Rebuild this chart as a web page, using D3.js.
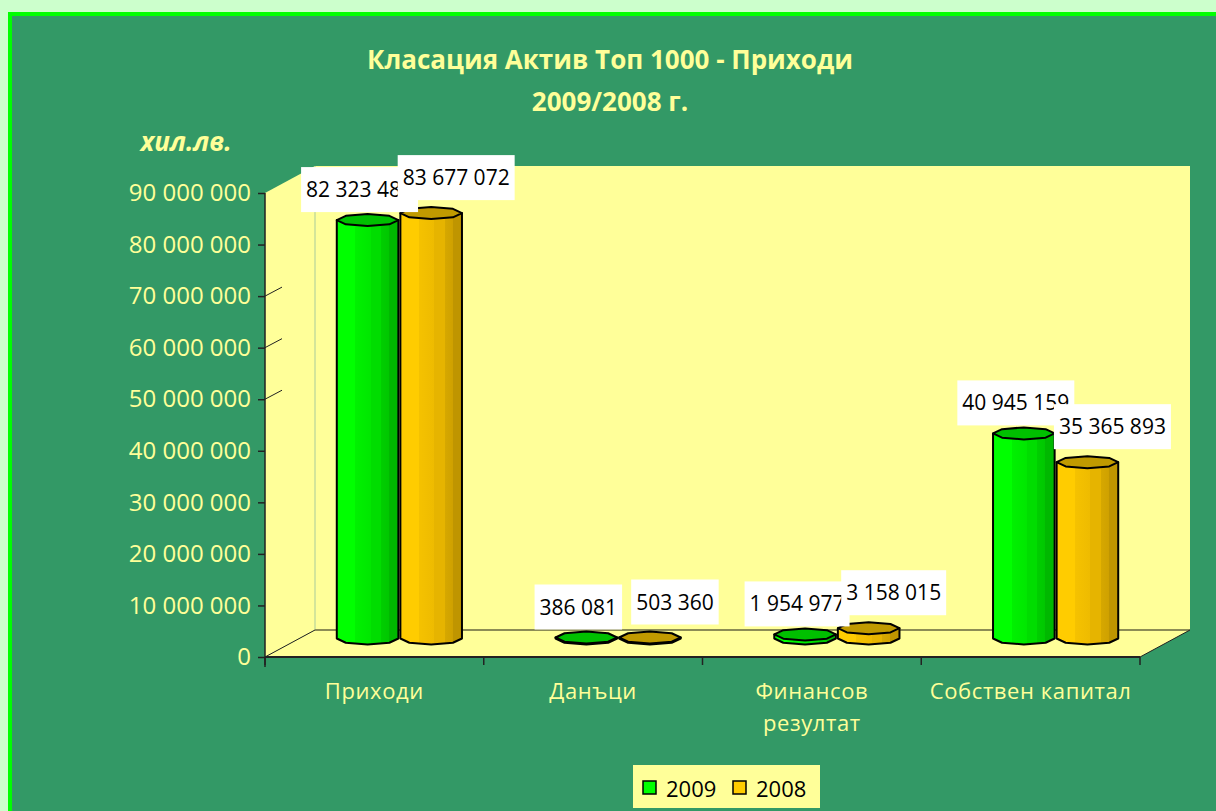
<!DOCTYPE html>
<html>
<head>
<meta charset="utf-8">
<script src="https://cdn.jsdelivr.net/npm/d3@7/dist/d3.min.js"></script>
<style>
  html, body { margin: 0; padding: 0; background: #ccffcc; }
  svg { display: block; }
  text { font-family: "Open Sans", "Noto Sans", sans-serif; }
</style>
</head>
<body>
<div id="chart"></div>
<script>
const categories = ["Приходи", "Данъци", "Финансов резултат", "Собствен капитал"];
const categoryLines = [["Приходи"], ["Данъци"], ["Финансов", "резултат"], ["Собствен капитал"]];
const seriesNames = ["2009", "2008"];
const values2009 = [82323481, 386081, 1954977, 40945159];
const values2008 = [83677072, 503360, 3158015, 35365893];
const yTickValues = [0, 10000000, 20000000, 30000000, 40000000, 50000000, 60000000, 70000000, 80000000, 90000000];
const wallStubTicks = [50000000, 60000000, 70000000];
const titleLines = ["Класация Актив Топ 1000 - Приходи", "2009/2008 г."];
const unitLabel = "хил.лв.";

const WIDTH = 1216;
const HEIGHT = 811;
const YELLOW = "#ffff99";
const PANEL = "#339966";

// front plane of the 3D plot and the depth offset of the back wall
const FRONT_LEFT = 265;
const FRONT_RIGHT = 1140;
const FRONT_BOTTOM = 657;
const FRONT_TOP = 193;
const DEPTH_X = 50;
const DEPTH_Y = -27;
const BAR_DEPTH = 0.5;
const CAP_H = 6;

const series = [
  { name: seriesNames[0], values: values2009, light: "#00ff00", mid: "#00dd00", dark: "#00b800", cap: "#00c000", labelDx: -8, labelDy: -31 },
  { name: seriesNames[1], values: values2008, light: "#ffcc00", mid: "#e6b400", dark: "#bf9500", cap: "#c09a00", labelDx: 25, labelDy: -36 }
];

const svg = d3.select("#chart").append("svg")
  .attr("width", WIDTH)
  .attr("height", HEIGHT);

// outer frame
svg.append("rect").attr("width", WIDTH).attr("height", HEIGHT).attr("fill", "#ccffcc");
svg.append("rect").attr("x", 8).attr("y", 12).attr("width", WIDTH).attr("height", HEIGHT).attr("fill", "#00ff00");
svg.append("rect").attr("x", 12).attr("y", 16).attr("width", WIDTH).attr("height", HEIGHT).attr("fill", PANEL);

const defs = svg.append("defs");
series.forEach((s, i) => {
  const grad = defs.append("linearGradient")
    .attr("id", `bar-grad-${i}`)
    .attr("x1", "0%").attr("x2", "100%").attr("y1", "0%").attr("y2", "0%");
  const stops = [
    [0, s.light], [0.3, s.light], [0.3, d3.interpolateRgb(s.light, s.mid)(0.4)],
    [0.55, d3.interpolateRgb(s.light, s.mid)(0.7)], [0.55, s.mid], [0.72, s.mid],
    [0.72, d3.interpolateRgb(s.mid, s.dark)(0.4)], [0.85, d3.interpolateRgb(s.mid, s.dark)(0.6)],
    [0.85, s.dark], [1, s.dark]
  ];
  stops.forEach(([o, c]) => grad.append("stop").attr("offset", o).attr("stop-color", c));
});

const x0 = d3.scaleBand().domain(categories).range([FRONT_LEFT, FRONT_RIGHT]);
const x1 = d3.scaleBand().domain(seriesNames).range([0, x0.bandwidth()]).paddingOuter(0.72);
const y = d3.scaleLinear().domain([0, 90000000]).range([FRONT_BOTTOM, FRONT_TOP]);
const fmt = (v) => d3.format(",")(v).replace(/,/g, " ");

const backTop = y(90000000) + DEPTH_Y;
const backBottom = FRONT_BOTTOM + DEPTH_Y;

// walls and floor
const walls = svg.append("g");
walls.append("polygon")
  .attr("points", [[FRONT_LEFT, y(90000000)], [FRONT_LEFT + DEPTH_X, backTop], [FRONT_LEFT + DEPTH_X, backBottom], [FRONT_LEFT, FRONT_BOTTOM]].join(" "))
  .attr("fill", YELLOW);
walls.append("rect")
  .attr("x", FRONT_LEFT + DEPTH_X).attr("y", backTop)
  .attr("width", FRONT_RIGHT - FRONT_LEFT).attr("height", backBottom - backTop)
  .attr("fill", YELLOW);
walls.append("polygon")
  .attr("points", [[FRONT_LEFT, FRONT_BOTTOM], [FRONT_RIGHT, FRONT_BOTTOM], [FRONT_RIGHT + DEPTH_X, backBottom], [FRONT_LEFT + DEPTH_X, backBottom]].join(" "))
  .attr("fill", YELLOW);
walls.append("line")
  .attr("x1", FRONT_LEFT + DEPTH_X).attr("x2", FRONT_LEFT + DEPTH_X)
  .attr("y1", backTop).attr("y2", backBottom)
  .attr("stroke", "#b8d49a").attr("stroke-width", 1.2);
walls.append("line")
  .attr("x1", FRONT_LEFT + DEPTH_X).attr("x2", FRONT_RIGHT + DEPTH_X)
  .attr("y1", backBottom).attr("y2", backBottom)
  .attr("stroke", "#8c8c55").attr("stroke-width", 2);
walls.append("line")
  .attr("x1", FRONT_LEFT).attr("y1", FRONT_BOTTOM)
  .attr("x2", FRONT_LEFT + DEPTH_X).attr("y2", backBottom)
  .attr("stroke", "#222").attr("stroke-width", 1);
walls.append("line")
  .attr("x1", FRONT_RIGHT).attr("y1", FRONT_BOTTOM)
  .attr("x2", FRONT_RIGHT + DEPTH_X).attr("y2", backBottom)
  .attr("stroke", "#222").attr("stroke-width", 1);
walls.selectAll("line.stub")
  .data(wallStubTicks)
  .join("line")
  .attr("class", "stub")
  .attr("x1", FRONT_LEFT).attr("y1", (d) => y(d))
  .attr("x2", FRONT_LEFT + 17).attr("y2", (d) => y(d) - 9)
  .attr("stroke", "#222").attr("stroke-width", 1);

// y axis
const yAxis = svg.append("g")
  .attr("transform", `translate(${FRONT_LEFT},0)`)
  .call(d3.axisLeft(y).tickValues(yTickValues).tickFormat(fmt).tickSize(7).tickPadding(7));
yAxis.select(".domain").attr("stroke", "#222").attr("stroke-width", 1.5).attr("d", `M0,${y(90000000)}V${FRONT_BOTTOM + 10}`);
yAxis.selectAll(".tick line").attr("stroke", "#222").attr("stroke-width", 1.5);
yAxis.selectAll(".tick text")
  .attr("fill", YELLOW)
  .style("font-size", "24px")
  .style("font-family", "'Open Sans', sans-serif");

// x axis
const xAxis = svg.append("g")
  .attr("transform", `translate(0,${FRONT_BOTTOM})`);
xAxis.append("line")
  .attr("x1", FRONT_LEFT).attr("x2", FRONT_RIGHT)
  .attr("stroke", "#222").attr("stroke-width", 2);
xAxis.selectAll("line.tick")
  .data(categories.concat([null]))
  .join("line")
  .attr("class", "tick")
  .attr("x1", (d) => d === null ? FRONT_RIGHT : x0(d))
  .attr("x2", (d) => d === null ? FRONT_RIGHT : x0(d))
  .attr("y1", 0).attr("y2", 8)
  .attr("stroke", "#222").attr("stroke-width", 1.5);
const catLabels = xAxis.selectAll("text.cat")
  .data(categories)
  .join("text")
  .attr("class", "cat")
  .attr("text-anchor", "middle")
  .attr("fill", YELLOW)
  .style("font-size", "22px")
  .style("letter-spacing", "0.6px");
catLabels.each(function (d, i) {
  d3.select(this).selectAll("tspan")
    .data(categoryLines[i])
    .join("tspan")
    .attr("x", x0(d) + x0.bandwidth() / 2)
    .attr("y", (_, j) => 42 + j * 32)
    .text((t) => t);
});

// bars as octagonal cylinders
const bars = svg.append("g");
function capPoints(cx, cy, r) {
  return d3.range(8).map((k) => {
    const a = (k * Math.PI) / 4;
    return [cx + r * Math.cos(a), cy + CAP_H * Math.sin(a)];
  });
}
function bodyPath(cx, yTop, yBase, r) {
  const p = d3.path();
  p.moveTo(cx - r, yTop);
  p.lineTo(cx - r, yBase);
  [3, 2, 1, 0].forEach((k) => {
    const a = (k * Math.PI) / 4;
    p.lineTo(cx + r * Math.cos(a), yBase + CAP_H * Math.sin(a));
  });
  p.lineTo(cx + r, yTop);
  p.closePath();
  return p.toString();
}

const barData = [];
categories.forEach((c, ci) => {
  series.forEach((s, si) => {
    const cx = x0(c) + x1(s.name) + x1.bandwidth() / 2 + DEPTH_X * BAR_DEPTH;
    const yBase = y(0) + DEPTH_Y * BAR_DEPTH - CAP_H + 1;
    const yTop = Math.min(yBase - 1, y(s.values[ci]) + DEPTH_Y * BAR_DEPTH + 1);
    barData.push({ c, ci, s, si, cx, yBase, yTop, r: x1.bandwidth() / 2 - 1, value: s.values[ci] });
  });
});

const barG = bars.selectAll("g.bar")
  .data(barData)
  .join("g")
  .attr("class", "bar");
barG.append("path")
  .attr("d", (d) => bodyPath(d.cx, d.yTop, d.yBase, d.r))
  .attr("fill", (d) => `url(#bar-grad-${d.si})`)
  .attr("stroke", "#000")
  .attr("stroke-width", 2)
  .attr("stroke-linejoin", "round");
barG.append("polygon")
  .attr("points", (d) => capPoints(d.cx, d.yTop, d.r).join(" "))
  .attr("fill", (d) => d.s.cap)
  .attr("stroke", "#000")
  .attr("stroke-width", 2)
  .attr("stroke-linejoin", "round");

// data labels: 2009 first, then 2008 drawn on top
const labelG = svg.append("g");
const orderedLabels = barData.slice().sort((a, b) => a.si - b.si);
orderedLabels.forEach((d) => {
  const g = labelG.append("g");
  const rect = g.append("rect").attr("fill", "#fff");
  const t = g.append("text")
    .attr("x", d.cx + d.s.labelDx)
    .attr("y", d.yTop + d.s.labelDy)
    .attr("text-anchor", "middle")
    .attr("dominant-baseline", "central")
    .attr("fill", "#000")
    .style("font-size", "21px")
    .text(fmt(d.value));
  const w = t.node().getComputedTextLength();
  rect.attr("x", d.cx + d.s.labelDx - w / 2 - 5)
    .attr("y", d.yTop + d.s.labelDy - 22)
    .attr("width", w + 10)
    .attr("height", 45);
});

// title and unit
svg.append("text")
  .attr("text-anchor", "middle")
  .attr("fill", YELLOW)
  .style("font-size", "26px")
  .style("font-weight", "bold")
  .selectAll("tspan")
  .data(titleLines)
  .join("tspan")
  .attr("x", 610)
  .attr("y", (_, i) => 69 + i * 42)
  .text((d) => d);

svg.append("text")
  .attr("x", 186)
  .attr("y", 151)
  .attr("text-anchor", "middle")
  .attr("fill", YELLOW)
  .style("font-size", "26px")
  .style("font-weight", "bold")
  .style("font-style", "italic")
  .text(unitLabel);

// legend
const legend = svg.append("g").attr("transform", "translate(633,765)");
legend.append("rect").attr("width", 187).attr("height", 43).attr("fill", YELLOW);
const legendItems = legend.selectAll("g.item")
  .data(series)
  .join("g")
  .attr("class", "item")
  .attr("transform", (d, i) => `translate(${10 + i * 90},16)`);
legendItems.append("rect")
  .attr("width", 13).attr("height", 13)
  .attr("fill", (d) => d.light)
  .attr("stroke", "#000").attr("stroke-width", 1.5);
legendItems.append("text")
  .attr("x", 23).attr("y", 7)
  .attr("dominant-baseline", "central")
  .attr("fill", "#000")
  .style("font-size", "22px")
  .text((d) => d.name);
</script>
</body>
</html>
